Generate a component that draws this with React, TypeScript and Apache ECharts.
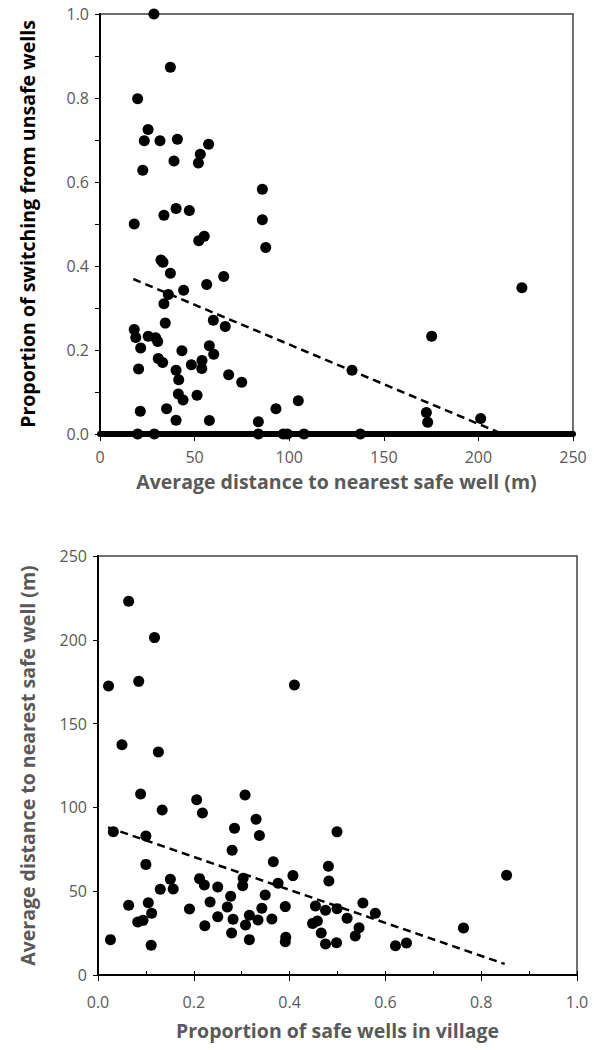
import React, { useEffect, useRef } from "react";
import * as echarts from "echarts";

// Top chart: average distance to nearest safe well (m) vs proportion switching
const switchDist = [
  28.5, 37.2, 19.9, 25.4, 23.4, 31.7, 40.9, 57.4, 53.0, 52.0, 39.1, 22.6, 85.8, 33.8, 40.2, 47.2,
  85.8, 18.1, 87.6, 52.2, 55.1, 32.2, 33.3, 37.2, 65.4, 56.4, 44.2, 36.1, 33.8, 59.9, 66.2, 34.5,
  18.1, 18.9, 25.5, 29.4, 30.5, 21.5, 57.8, 60.1, 43.3, 30.8, 33.1, 53.9, 53.8, 48.3, 20.4, 40.2,
  41.6, 68.0, 74.9, 41.4, 43.9, 51.3, 21.3, 35.2, 40.2, 57.8, 83.7, 223.0, 175.3, 133.2, 104.8,
  93.0, 172.5, 173.2, 201.2, 19.9, 28.7, 83.7, 96.9, 99.0, 107.8, 137.6,
];
const switchProp = [
  1.0, 0.873, 0.798, 0.725, 0.698, 0.698, 0.702, 0.69, 0.666, 0.645, 0.65, 0.628, 0.583, 0.521,
  0.537, 0.532, 0.51, 0.5, 0.444, 0.46, 0.471, 0.414, 0.409, 0.383, 0.375, 0.356, 0.342, 0.332,
  0.31, 0.271, 0.256, 0.264, 0.249, 0.23, 0.233, 0.229, 0.22, 0.205, 0.21, 0.19, 0.198, 0.18, 0.17,
  0.175, 0.156, 0.165, 0.155, 0.152, 0.129, 0.141, 0.123, 0.095, 0.081, 0.092, 0.054, 0.06, 0.033,
  0.032, 0.029, 0.348, 0.233, 0.152, 0.079, 0.06, 0.051, 0.028, 0.037, 0, 0, 0, 0, 0, 0, 0,
];
const switchTrendX = [17.6, 212.7];
const switchTrendY = [0.369, 0.0];

// Bottom chart: proportion of safe wells vs average distance (m)
const safeProp = [
  0.064, 0.118, 0.022, 0.085, 0.05, 0.126, 0.41, 0.089, 0.134, 0.206, 0.218, 0.307, 0.33, 0.337,
  0.285, 0.28, 0.032, 0.1, 0.1, 0.499, 0.366, 0.407, 0.376, 0.481, 0.482, 0.303, 0.302, 0.212,
  0.222, 0.151, 0.157, 0.13, 0.25, 0.349, 0.277, 0.064, 0.105, 0.112, 0.083, 0.094, 0.191, 0.234,
  0.27, 0.282, 0.25, 0.223, 0.316, 0.308, 0.334, 0.342, 0.363, 0.391, 0.392, 0.391, 0.279, 0.316,
  0.026, 0.111, 0.454, 0.475, 0.499, 0.448, 0.458, 0.466, 0.475, 0.498, 0.853, 0.553, 0.579, 0.52,
  0.545, 0.537, 0.621, 0.644, 0.763,
];
const safeDist = [
  223.0, 201.3, 172.4, 175.2, 137.4, 133.1, 173, 108.0, 98.4, 104.6, 96.7, 107.4, 92.9, 83.3, 87.5,
  74.4, 85.5, 82.9, 66.0, 85.4, 67.6, 59.3, 54.7, 64.9, 56.1, 57.7, 53.3, 57.5, 53.7, 57.1, 51.3,
  51.1, 52.5, 47.7, 47.0, 41.6, 43.1, 36.8, 31.6, 32.6, 39.4, 43.6, 40.6, 33.2, 34.8, 29.4, 35.6,
  29.8, 32.8, 39.8, 33.4, 40.8, 22.5, 19.9, 25.1, 21.1, 21.1, 17.7, 41.2, 38.7, 39.6, 30.8, 32.2,
  25.1, 18.5, 19.3, 59.5, 43.0, 36.8, 33.8, 28.2, 23.3, 17.5, 19.1, 28.0,
];
const safeTrendX = [0.021, 0.849];
const safeTrendY = [88.1, 6.6];

const topXTitle = "Average distance to nearest safe well (m)";
const topYTitle = "Proportion of switching from unsafe wells";
const botXTitle = "Proportion of safe wells in village";
const botYTitle = "Average distance to nearest safe well (m)";

const FONT = "'Open Sans', 'Noto Sans', sans-serif";
const GRAY = "#595959";

export default function App() {
  const ref = useRef<HTMLDivElement>(null);

  useEffect(() => {
    if (!ref.current) return;
    const chart = echarts.init(ref.current, null, { renderer: "svg" });

    const labelStyle = { color: GRAY, fontSize: 16, fontFamily: FONT };
    const nameStyle = (color: string) => ({
      color,
      fontSize: 19.5,
      fontWeight: "bold" as const,
      fontFamily: FONT,
    });
    const dashStyle = { color: "#000", width: 2.5, type: [8, 5] };

    const option: any = {
      animation: false,
      backgroundColor: "#fff",
      grid: [
        {
          left: 100,
          top: 14,
          width: 473,
          height: 420,
          show: true,
          borderColor: "#404040",
          borderWidth: 1.5,
          backgroundColor: "transparent",
        },
        {
          left: 98,
          top: 556,
          width: 479,
          height: 419,
          show: true,
          borderColor: "#404040",
          borderWidth: 1.5,
          backgroundColor: "transparent",
        },
      ],
      xAxis: [
        {
          type: "value",
          gridIndex: 0,
          min: 0,
          max: 250,
          interval: 50,
          position: "bottom",
          axisLine: { show: true, onZero: false, lineStyle: { color: "#000", width: 6 } },
          axisTick: { show: true, length: 7, lineStyle: { color: "#000", width: 1 } },
          axisLabel: { ...labelStyle, margin: 15 },
          splitLine: { show: false },
          name: topXTitle,
          nameLocation: "middle",
          nameGap: 37,
          nameTextStyle: nameStyle(GRAY),
        },
        {
          type: "value",
          gridIndex: 1,
          min: 0,
          max: 1,
          interval: 0.2,
          position: "bottom",
          axisLine: { show: true, onZero: false, lineStyle: { color: "#000", width: 2 } },
          axisTick: { show: true, length: 6, lineStyle: { color: "#000", width: 1 } },
          axisLabel: { ...labelStyle, margin: 19, formatter: (v: number) => v.toFixed(1) },
          splitLine: { show: false },
          name: botXTitle,
          nameLocation: "middle",
          nameGap: 45,
          nameTextStyle: nameStyle(GRAY),
        },
        {
          type: "value",
          gridIndex: 1,
          min: 0,
          max: 1,
          interval: 0.1,
          position: "bottom",
          offset: 0,
          axisLine: { show: false },
          axisTick: { show: true, inside: true, length: 4, lineStyle: { color: "#000", width: 1 } },
          axisLabel: { show: false },
          splitLine: { show: false },
        },
      ],
      yAxis: [
        {
          type: "value",
          gridIndex: 0,
          min: 0,
          max: 1,
          interval: 0.2,
          axisLine: { show: true, onZero: false, lineStyle: { color: "#000", width: 2 } },
          axisTick: { show: true, length: 5, lineStyle: { color: "#000", width: 1 } },
          minorTick: { show: true, splitNumber: 2, length: 5, lineStyle: { color: "#000", width: 1 } },
          axisLabel: { ...labelStyle, margin: 11, formatter: (v: number) => v.toFixed(1) },
          splitLine: { show: false },
          minorSplitLine: { show: false },
          name: topYTitle,
          nameLocation: "middle",
          nameGap: 63,
          nameTextStyle: nameStyle("#000"),
        },
        {
          type: "value",
          gridIndex: 1,
          min: 0,
          max: 250,
          interval: 50,
          axisLine: { show: true, onZero: false, lineStyle: { color: "#000", width: 2 } },
          axisTick: { show: true, length: 5, lineStyle: { color: "#000", width: 1 } },
          axisLabel: { ...labelStyle, margin: 11 },
          splitLine: { show: false },
          name: botYTitle,
          nameLocation: "middle",
          nameGap: 61,
          nameTextStyle: nameStyle(GRAY),
        },
      ],
      series: [
        {
          type: "scatter",
          xAxisIndex: 0,
          yAxisIndex: 0,
          symbolSize: 11,
          itemStyle: { color: "#000", opacity: 1 },
          data: switchDist.map((x, i) => [x, switchProp[i]]),
          z: 3,
        },
        {
          type: "line",
          xAxisIndex: 0,
          yAxisIndex: 0,
          symbol: "none",
          lineStyle: dashStyle,
          data: switchTrendX.map((x, i) => [x, switchTrendY[i]]),
          z: 4,
        },
        {
          type: "scatter",
          xAxisIndex: 1,
          yAxisIndex: 1,
          symbolSize: 11,
          itemStyle: { color: "#000", opacity: 1 },
          data: safeProp.map((x, i) => [x, safeDist[i]]),
          z: 3,
        },
        {
          type: "line",
          xAxisIndex: 1,
          yAxisIndex: 1,
          symbol: "none",
          lineStyle: dashStyle,
          data: safeTrendX.map((x, i) => [x, safeTrendY[i]]),
          z: 4,
        },
      ],
    };

    chart.setOption(option);
    return () => chart.dispose();
  }, []);

  return (
    <div
      ref={ref}
      style={{ position: "fixed", left: 0, top: 0, width: 594, height: 1050, background: "#fff" }}
    />
  );
}
